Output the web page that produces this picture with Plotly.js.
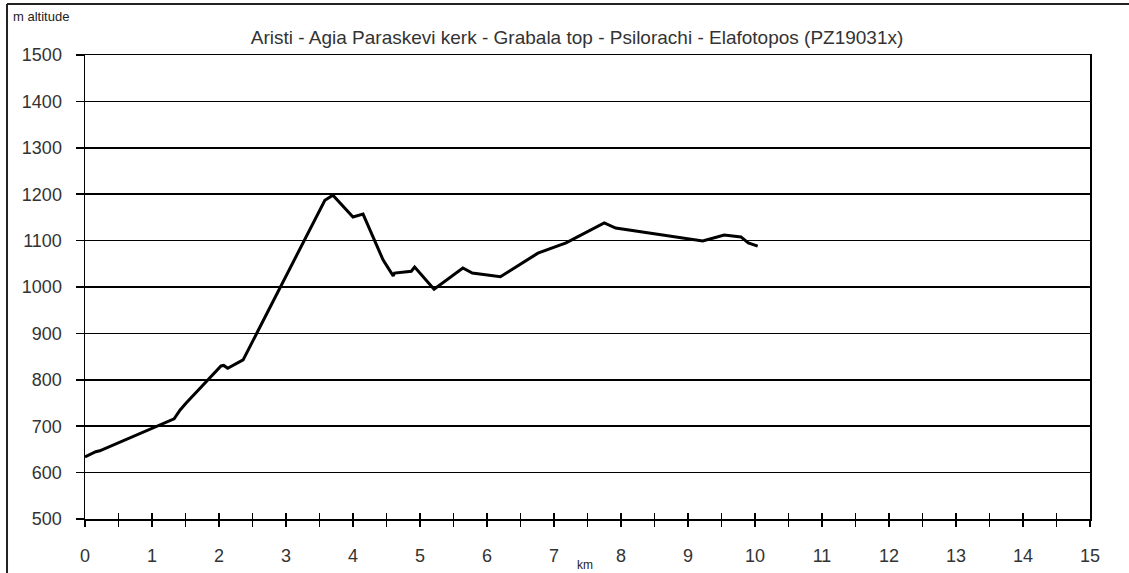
<!DOCTYPE html>
<html>
<head>
<meta charset="utf-8">
<script src="https://cdn.plot.ly/plotly-3.0.1.min.js"></script>
<style>html,body{margin:0;padding:0;background:#fff;}#chart{width:1129px;height:573px;}</style>
</head>
<body>
<div id="chart"></div>
<script>
const distanceKm = [0, 0.16, 0.22, 0.7, 1.0, 1.33, 1.42, 1.51, 2.03, 2.07, 2.13, 2.36, 3.58, 3.70, 4.0, 4.15, 4.45, 4.6, 4.62, 4.87, 4.92, 5.21, 5.64, 5.78, 6.2, 6.76, 7.18, 7.75, 7.92, 9.22, 9.54, 9.79, 9.9, 10.04];
const altitudeM = [634, 645, 647, 677, 697, 716, 735, 750, 830, 831, 825, 843, 1187, 1198, 1151, 1157, 1058, 1024, 1030, 1034, 1043, 995, 1041, 1030, 1022, 1073, 1095, 1138, 1127, 1099, 1112, 1108, 1095, 1088];
const titleText = "Aristi - Agia Paraskevi kerk - Grabala top - Psilorachi - Elafotopos (PZ19031x)";
const yLabel = "m altitude";
const xLabel = "km";

const font = "Liberation Sans, Arial, sans-serif";
const traces = [
  {x: distanceKm, y: altitudeM, type: "scatter", mode: "lines",
   line: {color: "#000", width: 3}, hoverinfo: "x+y", showlegend: false},
  {x: [0, 15], y: [500, 500], xaxis: "x2", type: "scatter", mode: "lines",
   line: {color: "rgba(0,0,0,0)", width: 0}, hoverinfo: "skip", showlegend: false}
];
const layout = {
  width: 1129, height: 573,
  margin: {l: 85, r: 39, t: 55, b: 54},
  paper_bgcolor: "#fff", plot_bgcolor: "#fff",
  font: {family: font, color: "#222"},
  title: {text: titleText, font: {family: font, size: 19, color: "#333"},
          x: 0.4896, xref: "paper", xanchor: "center", y: 0.935, yanchor: "middle"},
  xaxis: {range: [0, 15], dtick: 1, tick0: 0, showgrid: false, zeroline: false,
          showline: true, linecolor: "#000", linewidth: 1.5, mirror: true,
          ticks: "outside", ticklen: 6, tickwidth: 1.5, tickcolor: "#000",
          minor: {dtick: 0.5, tick0: 0, ticks: "outside", ticklen: 6, tickwidth: 1.5, tickcolor: "#000", showgrid: false},
          ticklabelstandoff: 14,
          tickfont: {family: font, size: 18, color: "#333"}, fixedrange: true},
  xaxis2: {range: [0, 15], overlaying: "x", anchor: "y", side: "bottom",
           dtick: 0.5, tick0: 0, ticks: "inside", ticklen: 6, tickwidth: 1.5, tickcolor: "#000",
           showticklabels: false, showgrid: false, zeroline: false, showline: false, fixedrange: true},
  yaxis: {range: [500, 1500], dtick: 100, tick0: 500, showgrid: true, gridcolor: "#000", gridwidth: 1.5,
          zeroline: false, showline: true, linecolor: "#000", linewidth: 1.5, mirror: true,
          ticks: "outside", ticklen: 8, tickwidth: 1.5, tickcolor: "#000",
          ticklabelstandoff: 10,
          tickfont: {family: font, size: 18, color: "#333"}, fixedrange: true},
  annotations: [
    {text: yLabel, xref: "paper", yref: "paper", x: -0.0737, y: 1.082, xanchor: "left", yanchor: "middle",
     showarrow: false, font: {family: font, size: 13, color: "#222"}},
    {text: xLabel, xref: "paper", yref: "paper", x: 0.498, y: -0.1, xanchor: "center", yanchor: "middle",
     showarrow: false, font: {family: font, size: 12, color: "#222"}}
  ],
  shapes: [
    {type: "line", xref: "paper", yref: "paper", x0: -0.0776, x1: -0.0776, y0: 1.1099, y1: -0.13,
     line: {color: "#222", width: 2}},
    {type: "line", xref: "paper", yref: "paper", x0: -0.0776, x1: 1.05, y0: 1.1099, y1: 1.1099,
     line: {color: "#222", width: 2}}
  ]
};
Plotly.newPlot("chart", traces, layout, {displayModeBar: false, staticPlot: true});
</script>
</body>
</html>
